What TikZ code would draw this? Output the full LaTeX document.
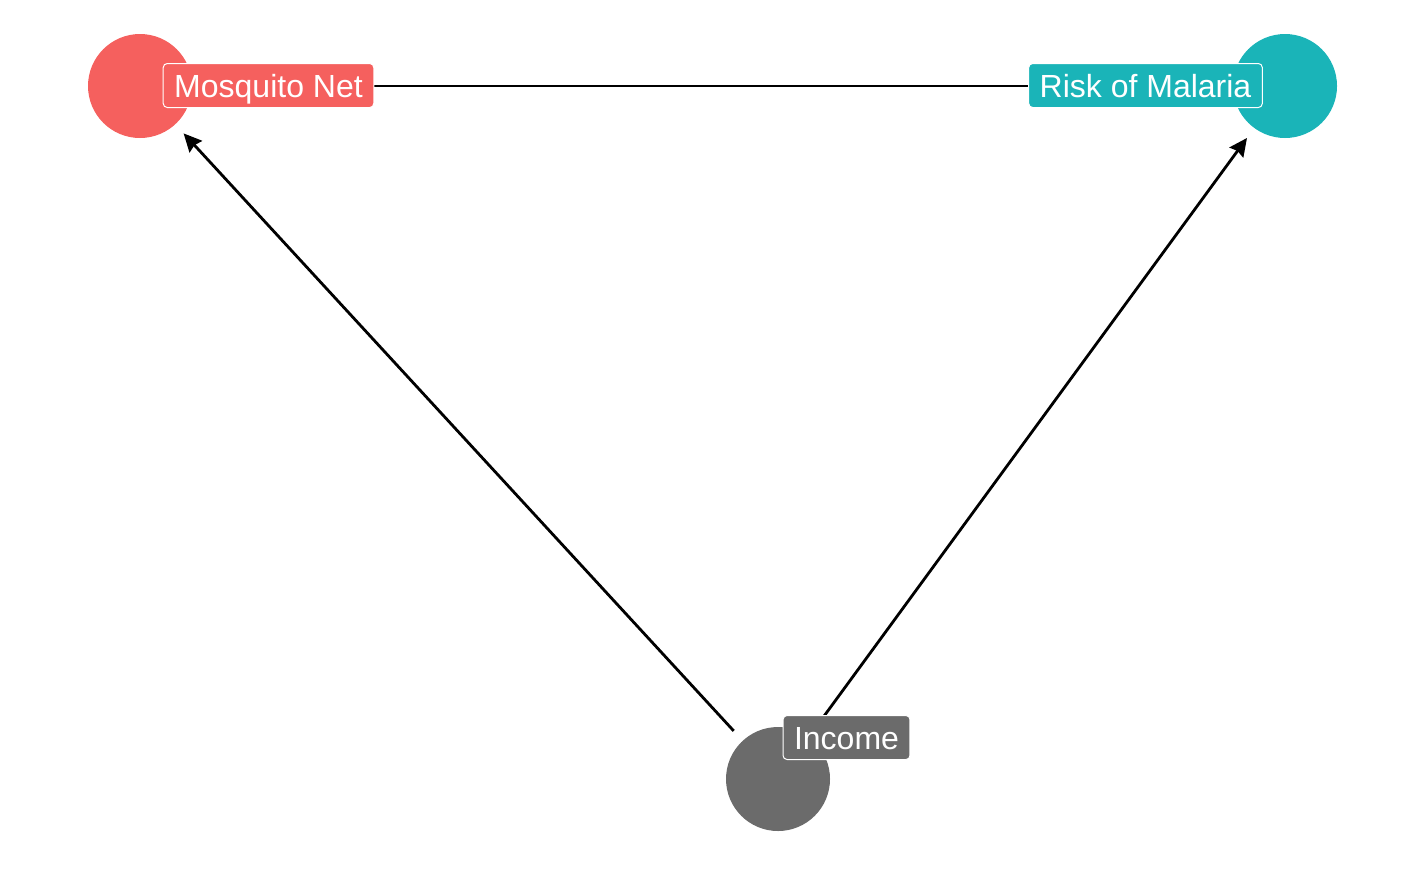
\documentclass[tikz,border=0pt]{standalone}
\usepackage{fontspec}
\setmainfont{Liberation Sans}
\usepackage{xcolor}
\definecolor{dagRed}{HTML}{F5605E}
\definecolor{dagTeal}{HTML}{1AB4B8}
\definecolor{dagGray}{HTML}{6B6B6B}
\usepackage{tikz}
\usetikzlibrary{arrows.meta}

\begin{document}
\begin{tikzpicture}[
		x=0.5pt, y=-0.5pt,
		dot/.style={
			circle,
			inner sep=0pt,
			minimum size=52pt
		},
		tag/.style={
			draw=white,
			line width=0.5pt,
			rounded corners=2pt,
			inner xsep=5.5pt,
			minimum height=22pt,
			text height=11.5pt,
			text depth=0pt,
			text=white,
			font=\fontsize{16pt}{18pt}\selectfont
		},
		arrow/.style={-{Stealth[length=9pt, width=8.5pt, inset=1pt]}, line width=1.4pt, shorten <=6.5pt, shorten >=6pt}
		]
		
		\useasboundingbox (0,0) rectangle (1416,875);
		
		\node[dot, fill=dagRed] (net) at (140,86) {};
		\node[dot, fill=dagTeal] (risk) at (1285,86) {};
		\node[dot, fill=dagGray] (income) at (778,779) {};
		
		\draw[arrow] (net) -- (risk);
		\draw[arrow] (income) -- (net);
		\draw[arrow] (income) -- (risk);
		
		\node[tag, fill=dagRed] (netlabel) at (268.5,85.5) {Mosquito Net};
		\node[tag, fill=dagTeal] (risklabel) at (1145.5,85.5) {Risk of Malaria};
		\node[tag, fill=dagGray] (incomelabel) at (846.5,737.5) {Income};
		
	\end{tikzpicture}
\end{document}
